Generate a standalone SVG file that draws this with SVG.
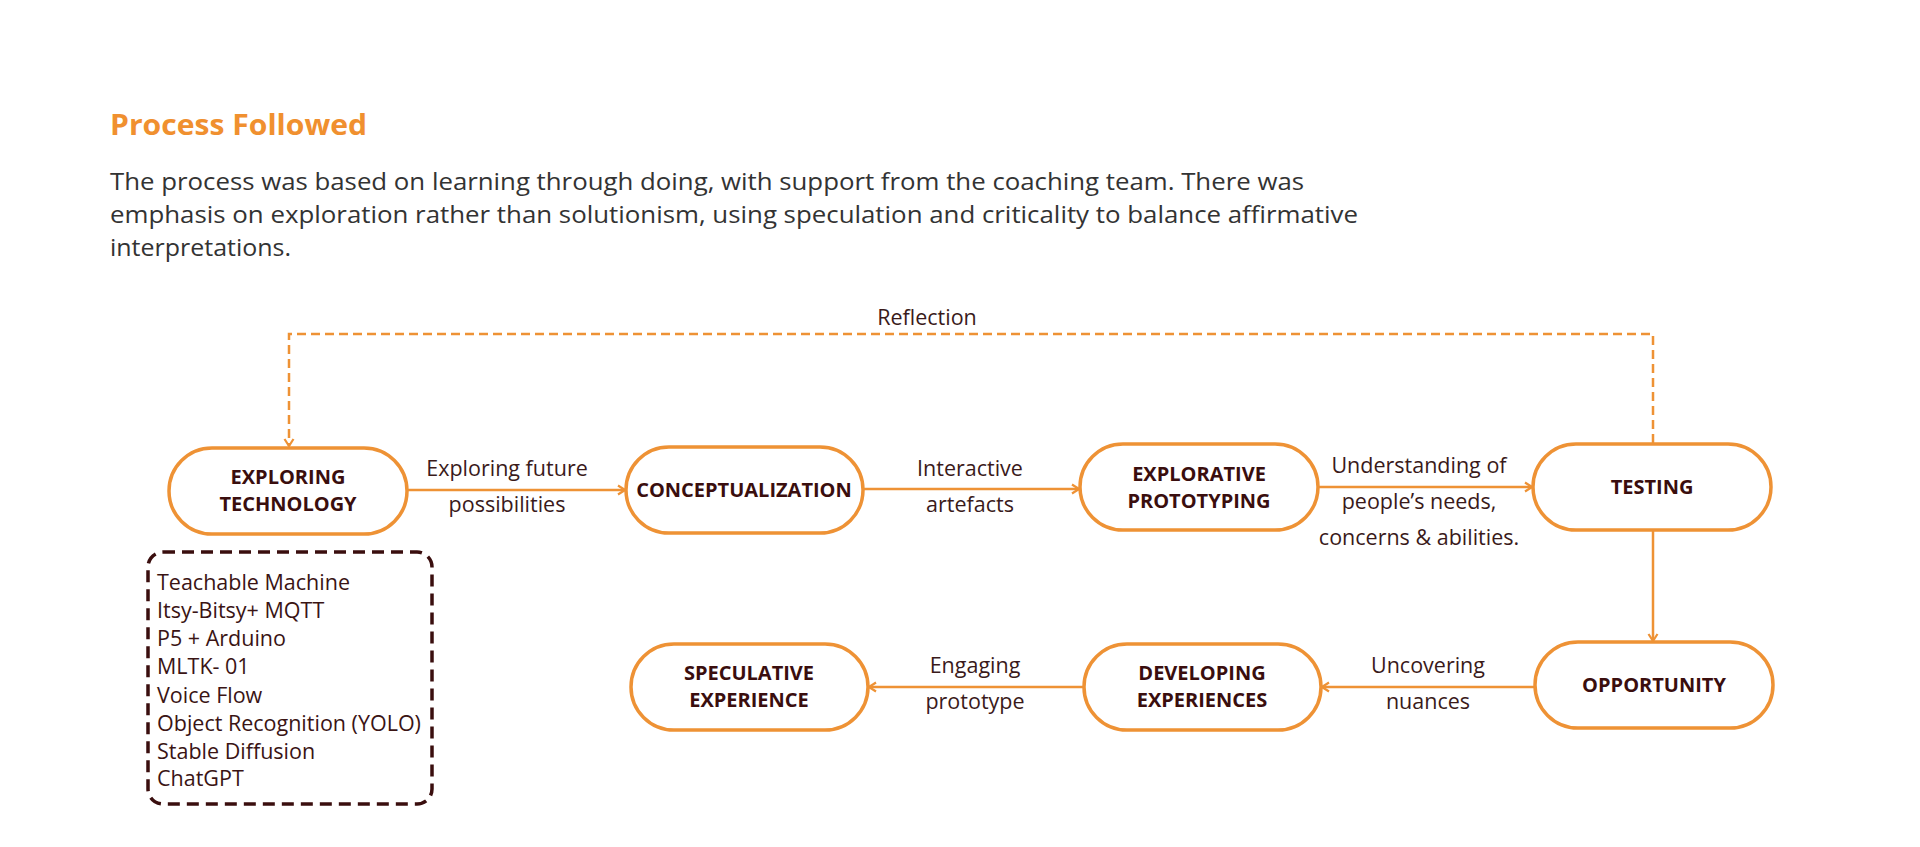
<svg xmlns="http://www.w3.org/2000/svg" width="1920" height="847" viewBox="0 0 1920 847">
<defs>
<style>
.title{font-family:"Open Sans","Liberation Sans",sans-serif;font-weight:700;font-size:29px;fill:#F0902F}
.body{font-family:"Open Sans","Liberation Sans",sans-serif;font-size:24px;fill:#333333}
.node rect{fill:#ffffff;stroke:#EE9235;stroke-width:3.5}
.node text{font-family:"Open Sans","Liberation Sans",sans-serif;font-weight:700;font-size:20px;fill:#3A0E0E;text-anchor:middle}
.lbl{font-family:"Open Sans","Liberation Sans",sans-serif;font-size:21.5px;fill:#3A1A1A;text-anchor:middle}
.list{font-family:"Open Sans","Liberation Sans",sans-serif;font-size:21.5px;fill:#3A1414}
.conn{fill:none;stroke:#EE9235;stroke-width:2.5}
.dash{stroke-dasharray:9 5}
</style>
<marker id="arr" viewBox="0 0 12 12" refX="11" refY="6" markerWidth="12" markerHeight="12" markerUnits="userSpaceOnUse" orient="auto">
<path d="M4,1.5 L11,6 L4,10.5" fill="none" stroke="#EE9235" stroke-width="2.2"/>
</marker>
</defs>
<rect width="1920" height="847" fill="#ffffff"/>
<text class="title" x="110" y="135" textLength="257" lengthAdjust="spacingAndGlyphs">Process Followed</text>
<text class="body" x="110" y="190" textLength="1194" lengthAdjust="spacingAndGlyphs">The process was based on learning through doing, with support from the coaching team. There was</text>
<text class="body" x="110" y="223" textLength="1248" lengthAdjust="spacingAndGlyphs">emphasis on exploration rather than solutionism, using speculation and criticality to balance affirmative</text>
<text class="body" x="110" y="256" textLength="181" lengthAdjust="spacingAndGlyphs">interpretations.</text>
<g id="connectors">
<path class="conn dash" d="M1653,443 V334 H289 V446" marker-end="url(#arr)"/>
<path class="conn" d="M407,490 H625" marker-end="url(#arr)"/>
<path class="conn" d="M863,489 H1079" marker-end="url(#arr)"/>
<path class="conn" d="M1318,487 H1532" marker-end="url(#arr)"/>
<path class="conn" d="M1653,530 V641" marker-end="url(#arr)"/>
<path class="conn" d="M1535,687 H1322" marker-end="url(#arr)"/>
<path class="conn" d="M1084,687 H869" marker-end="url(#arr)"/>
<text class="lbl" x="927" y="325">Reflection</text>
<text class="lbl" x="507" y="476">Exploring future</text>
<text class="lbl" x="507" y="512">possibilities</text>
<text class="lbl" x="970" y="476">Interactive</text>
<text class="lbl" x="970" y="512">artefacts</text>
<text class="lbl" x="1419" y="473">Understanding of</text>
<text class="lbl" x="1419" y="509">people’s needs,</text>
<text class="lbl" x="1419" y="545">concerns &amp; abilities.</text>
<text class="lbl" x="975" y="673">Engaging</text>
<text class="lbl" x="975" y="709">prototype</text>
<text class="lbl" x="1428" y="673">Uncovering</text>
<text class="lbl" x="1428" y="709">nuances</text>
</g>
<g id="exploring-technology" class="node"><rect x="169" y="448" width="238" height="86" rx="43"/><text x="288" y="484">EXPLORING</text><text x="288" y="511">TECHNOLOGY</text></g>
<g id="conceptualization" class="node"><rect x="626" y="447" width="237" height="86" rx="43"/><text x="744" y="497">CONCEPTUALIZATION</text></g>
<g id="explorative-prototyping" class="node"><rect x="1080" y="444" width="238" height="86" rx="43"/><text x="1199" y="481">EXPLORATIVE</text><text x="1199" y="508">PROTOTYPING</text></g>
<g id="testing" class="node"><rect x="1533" y="444" width="238" height="86" rx="43"/><text x="1652" y="494">TESTING</text></g>
<g id="opportunity" class="node"><rect x="1535" y="642" width="238" height="86" rx="43"/><text x="1654" y="692">OPPORTUNITY</text></g>
<g id="developing-experiences" class="node"><rect x="1084" y="644" width="237" height="86" rx="43"/><text x="1202" y="680">DEVELOPING</text><text x="1202" y="707">EXPERIENCES</text></g>
<g id="speculative-experience" class="node"><rect x="631" y="644" width="237" height="86" rx="43"/><text x="749" y="680">SPECULATIVE</text><text x="749" y="707">EXPERIENCE</text></g>
<g id="tech-list">
<rect x="148" y="552" width="284" height="252" rx="15" fill="none" stroke="#3A0E0E" stroke-width="3.5" stroke-dasharray="12 7"/>
<text class="list" x="157" y="590">Teachable Machine</text>
<text class="list" x="157" y="618">Itsy-Bitsy+ MQTT</text>
<text class="list" x="157" y="646">P5 + Arduino</text>
<text class="list" x="157" y="674">MLTK- 01</text>
<text class="list" x="157" y="703">Voice Flow</text>
<text class="list" x="157" y="731">Object Recognition (YOLO)</text>
<text class="list" x="157" y="759">Stable Diffusion</text>
<text class="list" x="157" y="786">ChatGPT</text>
</g>
</svg>
